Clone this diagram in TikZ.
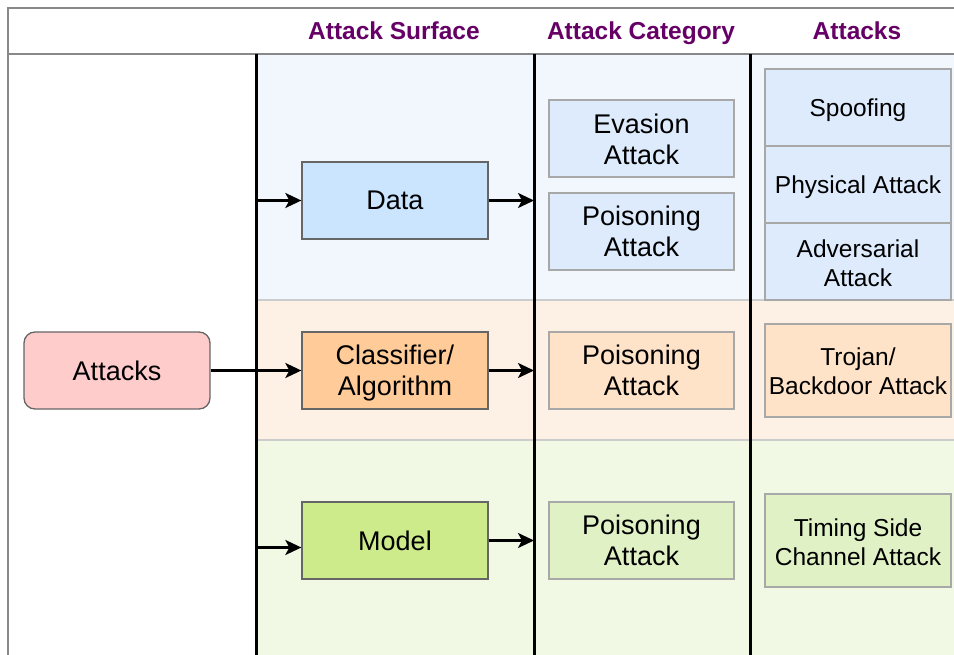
\documentclass[tikz,border=0pt]{standalone}
\usepackage{fontspec}
\setmainfont{Liberation Sans}
\usetikzlibrary{arrows.meta}
\definecolor{hdr}{HTML}{660066}
\definecolor{bandB}{HTML}{F2F7FE}
\definecolor{bandO}{HTML}{FDF0E4}
\definecolor{bandG}{HTML}{F1F8E4}
\definecolor{sepc}{HTML}{CCCCCC}
\definecolor{framec}{HTML}{888888}
\definecolor{fPink}{HTML}{FFCCCC}
\definecolor{fData}{HTML}{CCE5FF}
\definecolor{fCls}{HTML}{FFCC99}
\definecolor{fModel}{HTML}{CDEB8B}
\definecolor{fB}{HTML}{DDEBFC}
\definecolor{fO}{HTML}{FFE3C8}
\definecolor{fG}{HTML}{E1F1C6}
\definecolor{bdark}{HTML}{666666}
\definecolor{blight}{HTML}{A8A8A8}
\tikzset{
  mainbox/.style={draw=bdark, line width=1.3pt, minimum width=186pt, minimum height=77pt,
    align=center, inner sep=0pt, font=\fontsize{27}{31}\selectfont},
  catbox/.style={draw=blight, line width=1.3pt, minimum width=185pt, minimum height=77pt,
    align=center, inner sep=0pt, font=\fontsize{27}{31}\selectfont},
  atkbox/.style={draw=blight, line width=1.3pt, minimum width=186pt, minimum height=77pt,
    align=center, inner sep=0pt, font=\fontsize{24.5}{29}\selectfont},
  oneline/.style={text height=22pt, text depth=4.8pt},
  hdrtext/.style={text=hdr, font=\bfseries\fontsize{24.5}{28}\selectfont, inner sep=0pt, anchor=base},
  conn/.style={line width=2.4pt, -{Stealth[length=16pt,width=15pt,inset=4pt]}},
  colline/.style={line width=3pt, black},
}
\begin{document}
\begin{tikzpicture}[x=1pt,y=-1pt]
\useasboundingbox (0,0) rectangle (954,655);
% bands
\fill[bandB] (256,54) rectangle (954,300);
\fill[bandO] (256,300) rectangle (954,440);
\fill[bandG] (256,440) rectangle (954,655);
\draw[sepc, line width=1.3pt] (256,300) -- (954,300);
\draw[sepc, line width=1.3pt] (256,440) -- (954,440);
% frame
\draw[framec, line width=1.3pt] (954,8) -- (8,8) -- (8,655);
\draw[framec, line width=1.3pt] (8,54) -- (954,54);
% column lines
\coordinate (c1t) at (256,54); \coordinate (c1b) at (256,655);
\coordinate (c2t) at (534,54); \coordinate (c2b) at (534,655);
\coordinate (c3t) at (750,54); \coordinate (c3b) at (750,655);
\draw[colline] (c1t) -- (c1b);
\draw[colline] (c2t) -- (c2b);
\draw[colline] (c3t) -- (c3b);
% headers
\node[hdrtext] (h1) at (394,40) {Attack Surface};
\node[hdrtext] (h2) at (641,40) {Attack Category};
\node[hdrtext] (h3) at (857,40) {Attacks};
% main nodes
\node[mainbox, fill=fPink, rounded corners=11pt] (attacks) at (117,370.5) {Attacks};
\node[mainbox, fill=fData] (data) at (395,200.5) {Data};
\node[mainbox, fill=fCls] (cls) at (395,370.5) {\rule{0pt}{25pt}Classifier/\\Algorithm};
\node[mainbox, fill=fModel] (model) at (395,540.5) {Model};
% categories
\node[catbox, fill=fB] (eva) at (641.5,138.5) {\rule{0pt}{21pt}Evasion\\Attack};
\node[catbox, fill=fB] (poiB) at (641.5,231.5) {Poisoning\\Attack};
\node[catbox, fill=fO] (poiO) at (641.5,370.5) {Poisoning\\Attack};
\node[catbox, fill=fG] (poiG) at (641.5,540.5) {Poisoning\\Attack};
% attacks
\node[atkbox, fill=fB, oneline] (spoof) at (858,107.5) {Spoofing};
\node[atkbox, fill=fB, oneline] (phys) at (858,184.5) {Physical Attack};
\node[atkbox, fill=fB] (adv) at (858,261.5) {\rule{0pt}{21pt}Adversarial\\Attack};
\node[atkbox, fill=fO, minimum height=93pt] (troj) at (858,370.5) {\rule{0pt}{20pt}Trojan/\\Backdoor Attack};
\node[atkbox, fill=fG, minimum height=93pt] (timing) at (858,540.5) {\rule{0pt}{22pt}Timing Side\\Channel Attack};
% connectors
\coordinate (inD) at (256,200.5);
\coordinate (inM) at (256,547.5);
\coordinate (outD) at (534,200.5);
\coordinate (outC) at (534,370.5);
\coordinate (outM) at (534,540.5);
\draw[conn] (attacks.east) -- (cls.west);
\draw[conn] (inD) -- (data.west);
\draw[conn] (inM) -- (model.west |- inM);
\draw[conn] (data.east) -- (outD);
\draw[conn] (cls.east) -- (outC);
\draw[conn] (model.east) -- (outM);
\end{tikzpicture}
\end{document}
